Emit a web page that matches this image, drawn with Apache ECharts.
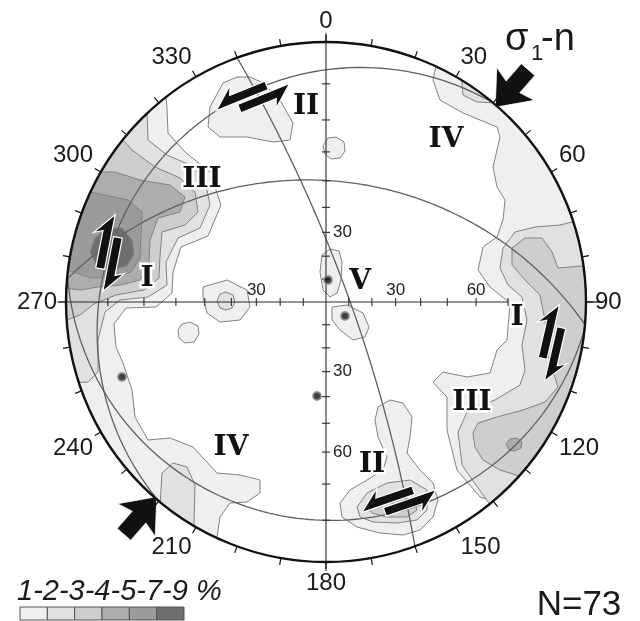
<!DOCTYPE html>
<html>
<head>
<meta charset="utf-8">
<script src="https://cdn.jsdelivr.net/npm/echarts@6.0.0/dist/echarts.min.js"></script>
<style>
html,body{margin:0;padding:0;background:#fff;}
#chart{width:640px;height:621px;}
</style>
</head>
<body>
<div id="chart"></div>
<script>
// ================= DATA =================
// Wulff (equal-angle) net, lower hemisphere. Projection units: primitive radius = R, x = east, y = north.
const R = 260;

// contour levels (% per 1% area)
const LEVEL_NAMES = ['1-2', '2-3', '3-4', '4-5', '5-7', '7-9'];
const LEVEL_COLORS = ['#efeff0', '#e1e1e2', '#cececf', '#adadae', '#9b9b9c', '#6f6f71'];
const LEGEND_TEXT = '1-2-3-4-5-7-9 %';
const N_TEXT = 'N=73';

// contour polygons; {rim:[a,b]} follows the primitive from azimuth a to b
const LEVEL1 = [
  [{rim: [205, 322]}, [-159, 194], [-158, 169], [-141, 150], [-116, 130], [-105, 97], [-118, 66], [-145, 55], [-153, 30], [-154, 9], [-170, -5], [-200, -6], [-212, -22], [-210, -45], [-203, -61], [-194, -88], [-191, -115], [-178, -138], [-156, -136], [-133, -145], [-109, -171], [-86, -173], [-66, -178], [-66, -191], [-79, -200], [-96, -201], [-106, -215], [-109, -235]],
  [{rim: [25, 140]}, [154, -195], [131, -168], [121, -128], [121, -95], [114, -88], [107, -80], [117, -70], [141, -75], [164, -71], [171, -48], [181, -38], [184, -1], [164, 15], [152, 32], [157, 55], [171, 65], [177, 82], [179, 102], [171, 115], [167, 135], [174, 165], [171, 175], [137, 189], [114, 202], [107, 222]],
  [[-116, 195], [-103, 219], [-89, 225], [-76, 225], [-63, 219], [-46, 202], [-33, 179], [-36, 162], [-53, 160], [-79, 165], [-106, 165], [-118, 175]],
  [[-3, 156], [2, 164], [10, 165], [18, 160], [19, 151], [14, 144], [5, 143], [-1, 148]],
  [[-4, 47], [4, 53], [13, 51], [16, 40], [15, 22], [11, 9], [4, 5], [-3, 12], [-6, 30]],
  [[6, -5], [21, -3], [37, -11], [43, -25], [39, -35], [27, -38], [14, -28], [6, -18]],
  [[-123, 15], [-99, 22], [-79, 12], [-76, -5], [-86, -18], [-106, -20], [-119, -11], [-123, 5]],
  [[-148, -28], [-144, -22], [-136, -20], [-128, -24], [-127, -32], [-132, -40], [-141, -41], [-147, -36]],
  [[49, -118], [52, -105], [64, -98], [77, -101], [86, -115], [84, -135], [81, -151], [94, -168], [107, -181], [112, -198], [107, -215], [94, -228], [77, -233], [54, -231], [31, -225], [16, -215], [14, -201], [24, -188], [41, -178], [57, -168], [61, -155], [52, -135]]
];
const LEVEL2 = [
  [{rim: [252, 316.5]}, [-178, 162], [-159, 147], [-136, 137], [-121, 122], [-116, 97], [-126, 74], [-148, 64], [-160, 40], [-159, 17], [-178, 5], [-206, 2], [-221, -10], [-228, -38], [-228, -70], [-238, -80]],
  [{rim: [210.5, 219.6]}, [-164, -171], [-153, -161], [-139, -165], [-131, -183], [-132, -222]],
  [{rim: [31.5, 40]}, [151, 200], [137, 207]],
  [{rim: [72, 141]}, [152, -186], [136, -163], [132, -130], [142, -108], [169, -98], [194, -83], [199, -68], [196, -43], [201, -18], [196, 5], [182, 17], [174, 34], [177, 54], [189, 70], [209, 75], [234, 77]],
  [[-109, 1], [-106, 8], [-100, 10], [-93, 7], [-91, 0], [-94, -6], [-100, -8], [-106, -6]],
  [[31, -205], [41, -191], [61, -181], [84, -178], [101, -188], [101, -208], [91, -218], [71, -221], [47, -220], [34, -215]]
];
const LEVEL3 = [
  [{rim: [266, 308.6]}, [-194, 152], [-171, 135], [-146, 124], [-131, 110], [-128, 90], [-141, 77], [-164, 70], [-166, 46], [-167, 24], [-182, 12], [-210, 7], [-232, -2], [-246, -13]],
  [{rim: [82, 132]}, [174, -168], [157, -158], [149, -145], [147, -131], [152, -121], [171, -115], [197, -108], [219, -100], [232, -85], [222, -53], [219, -18], [214, 7], [199, 22], [186, 37], [186, 54], [199, 64], [216, 64], [226, 50], [232, 34]],
  [[41, -205], [51, -196], [71, -193], [87, -198], [91, -208], [81, -215], [61, -215], [46, -211]]
];
const LEVEL4 = [
  [{rim: [273, 300]}, [-211, 130], [-186, 122], [-156, 117], [-141, 105], [-146, 90], [-168, 84], [-176, 62], [-177, 37], [-186, 22], [-205, 17], [-228, 15], [-245, 12]],
  [[180, -142], [184, -137], [191, -136], [196, -140], [195, -146], [189, -149], [183, -148]],
  [[61, -199], [66, -196], [76, -195], [83, -198], [80, -202], [70, -203]]
];
const LEVEL5 = [
  [{rim: [277, 295]}, [-221, 107], [-198, 102], [-184, 90], [-185, 67], [-186, 44], [-195, 30], [-212, 25], [-235, 24]]
];
const LEVEL6 = [
  [[-231, 64], [-218, 74], [-204, 74], [-194, 62], [-192, 48], [-199, 36], [-216, 32], [-230, 38], [-236, 50]]
];

// fault planes: [dip direction, dip] (great circles)
const PLANES = [[70, 80], [5, 40], [310, 10], [186, 10]];

// individual poles (projection units)
const POLES = [[2, 22], [19, -14], [-9, -94], [-204, -75]];

// shear-sense markers: [x, y, azimuth of marker axis, sense (+1 / -1)]
const SHEAR = [[-217, 49, 11, 1], [226, -41, 13, 1], [-73, 205, 68, -1], [73, -199, 71, -1]];

// sigma1 trend (both ends)
const SIGMA1_TRENDS = [41, 221];

// domain labels: [text, x, y]
const DOMAINS = [
  ['II', -20, 195], ['III', -124, 122], ['IV', 120, 162], ['I', -179, 23], ['V', 34, 20],
  ['I', 191, -16], ['III', 146, -101], ['IV', -95, -146], ['II', 46, -163]
];

// inner graduation arms: azimuth, tick angles from centre (deg), labelled ticks
const ARM_TICKS = [10, 20, 30, 40, 50, 60, 70, 80];
const ARMS = [
  {az: 0, ticks: ARM_TICKS, labels: [30]},
  {az: 90, ticks: ARM_TICKS.slice(0, 7), labels: [30, 60]},
  {az: 180, ticks: ARM_TICKS, labels: [30, 60]},
  {az: 270, ticks: ARM_TICKS, labels: [30]}
];
const EAST_ARM_END = 70;

// ================= HELPERS =================
const D2R = Math.PI / 180;
function dist(angleFromCentre) { return R * Math.tan(angleFromCentre / 2 * D2R); }
function wulff(trend, plunge) {
  const r = dist(90 - plunge);
  return [r * Math.sin(trend * D2R), r * Math.cos(trend * D2R)];
}
function greatCircle(dd, dip) {
  const s = (dd - 90) * D2R, d = dd * D2R, p = dip * D2R;
  const S = [Math.sin(s), Math.cos(s), 0];
  const Dv = [Math.cos(p) * Math.sin(d), Math.cos(p) * Math.cos(d), Math.sin(p)];
  const pts = [];
  for (let k = 0; k <= 180; k += 1.5) {
    const t = k * D2R, c = Math.cos(t), sn = Math.sin(t);
    const e = c * S[0] + sn * Dv[0], n = c * S[1] + sn * Dv[1], dn = c * S[2] + sn * Dv[2];
    const pl = Math.asin(Math.max(-1, Math.min(1, dn))) / D2R;
    const tr = Math.atan2(e, n) / D2R;
    pts.push(wulff(tr, pl));
  }
  return pts;
}
function rimArc(a1, a2) {
  const n = Math.max(2, Math.ceil(Math.abs(a2 - a1) / 2));
  const out = [];
  for (let i = 0; i <= n; i++) {
    const a = (a1 + (a2 - a1) * i / n) * D2R;
    out.push([R * Math.sin(a), R * Math.cos(a)]);
  }
  return out;
}
function expand(poly) {
  const out = [];
  poly.forEach(p => { if (p.rim) out.push(...rimArc(p.rim[0], p.rim[1])); else out.push(p); });
  return out;
}
function txt(style) {
  if (style.align) style.textAlign = style.align;
  if (style.verticalAlign) style.textVerticalAlign = style.verticalAlign;
  return style;
}

const LEVELS = [LEVEL1, LEVEL2, LEVEL3, LEVEL4, LEVEL5, LEVEL6];
const CONTOUR_STROKE = '#828282';

// ================= SERIES =================
const series = [];

LEVELS.forEach((polys, li) => {
  series.push({
    type: 'custom', name: LEVEL_NAMES[li], coordinateSystem: 'cartesian2d', xAxisIndex: 0, yAxisIndex: 0,
    z: 2 + li, silent: true,
    data: polys.map(() => [0, 0]),
    renderItem: (params, api) => {
      const pts = expand(polys[params.dataIndex]).map(p => api.coord(p));
      return {type: 'polygon', shape: {points: pts}, style: {fill: LEVEL_COLORS[li], stroke: CONTOUR_STROKE, lineWidth: 1}};
    }
  });
});

PLANES.forEach(pl => {
  series.push({
    type: 'line', coordinateSystem: 'cartesian2d', xAxisIndex: 0, yAxisIndex: 0,
    data: greatCircle(pl[0], pl[1]), showSymbol: false, symbol: 'none', silent: true, z: 9,
    lineStyle: {color: '#606060', width: 1.3}
  });
});

// graduated cross
series.push({
  type: 'custom', coordinateSystem: 'cartesian2d', xAxisIndex: 0, yAxisIndex: 0, z: 10, silent: true,
  data: [[0, 0]],
  renderItem: (params, api) => {
    const ch = [];
    const line = (a, b, w) => ch.push({type: 'line', shape: {x1: a[0], y1: a[1], x2: b[0], y2: b[1]}, style: {stroke: '#2b2b2b', lineWidth: w || 1.1}});
    const ext = 9;
    line(api.coord([0, R + ext]), api.coord([0, -R - ext]));
    line(api.coord([-R - ext, 0]), api.coord([dist(EAST_ARM_END), 0]));
    line(api.coord([R, 0]), api.coord([R + 14, 0]), 1.4);
    ARMS.forEach(arm => {
      const ux = Math.sin(arm.az * D2R), uy = Math.cos(arm.az * D2R);
      const horiz = Math.abs(ux) > 0.5;
      arm.ticks.forEach(d => {
        const c = api.coord([ux * dist(d), uy * dist(d)]);
        if (horiz) line([c[0], c[1] - 4], [c[0], c[1] + 4]);
        else line([c[0] - 4, c[1]], [c[0] + 4, c[1]]);
      });
      arm.labels.forEach(d => {
        const c = api.coord([ux * dist(d), uy * dist(d)]);
        ch.push({type: 'text', x: horiz ? c[0] : c[0] + 7, y: horiz ? c[1] - 12 : c[1],
          style: txt({text: String(d), font: '17px "Liberation Sans"', fill: '#222', align: horiz ? 'center' : 'left', verticalAlign: 'middle'})});
      });
    });
    return {type: 'group', children: ch};
  }
});

// poles
series.push({
  type: 'scatter', coordinateSystem: 'cartesian2d', xAxisIndex: 0, yAxisIndex: 0, z: 11, silent: true,
  data: POLES, symbolSize: 8,
  itemStyle: {color: '#111', borderColor: '#8f8f8f', borderWidth: 2}
});

// shear-sense half arrows
series.push({
  type: 'custom', coordinateSystem: 'cartesian2d', xAxisIndex: 0, yAxisIndex: 0, z: 12, silent: true,
  data: SHEAR.map(s => [s[0], s[1]]),
  renderItem: (params, api) => {
    const [x, y, az, sense] = SHEAR[params.dataIndex];
    const c = api.coord([x, y]);
    const a = az * D2R;
    const u = [Math.sin(a), -Math.cos(a)], v = [Math.cos(a), Math.sin(a)];
    const L = 56, hl = 22, w = 9, bw = 9, gi = 1.2, st = 11;
    const half = (base, d, o) => {
      const P = (p, q) => [base[0] + p * d[0] + q * o[0], base[1] + p * d[1] + q * o[1]];
      return [P(-L / 2, 0), P(L / 2, 0), P(L / 2 - hl, w + bw), P(L / 2 - hl + 4, w), P(-L / 2, w)];
    };
    const baseA = [c[0] - sense * gi * v[0] + st * u[0], c[1] - sense * gi * v[1] + st * u[1]];
    const baseB = [c[0] + sense * gi * v[0] - st * u[0], c[1] + sense * gi * v[1] - st * u[1]];
    const A = half(baseA, u, [-sense * v[0], -sense * v[1]]);
    const B = half(baseB, [-u[0], -u[1]], [sense * v[0], sense * v[1]]);
    const sty = {fill: '#111', stroke: '#fff', lineWidth: 1.2};
    return {type: 'group', children: [
      {type: 'polygon', shape: {points: A}, style: sty},
      {type: 'polygon', shape: {points: B}, style: sty}
    ]};
  }
});

// sigma1 arrows
series.push({
  type: 'custom', coordinateSystem: 'cartesian2d', xAxisIndex: 0, yAxisIndex: 0, z: 12, silent: true,
  data: SIGMA1_TRENDS.map(() => [0, 0]),
  renderItem: (params, api) => {
    const t = SIGMA1_TRENDS[params.dataIndex] * D2R;
    const tip = api.coord([R * Math.sin(t), R * Math.cos(t)]);
    const ctr = api.coord([0, 0]);
    let d = [ctr[0] - tip[0], ctr[1] - tip[1]];
    const len = Math.hypot(d[0], d[1]); d = [d[0] / len, d[1] / len];
    const o = [-d[1], d[0]];
    const P = (p, q) => [tip[0] + p * d[0] + q * o[0], tip[1] + p * d[1] + q * o[1]];
    const pts = [P(2, 0), P(-29, 25), P(-25, 9), P(-48, 9), P(-48, -9), P(-25, -9), P(-29, -25)];
    return {type: 'polygon', shape: {points: pts}, style: {fill: '#111', stroke: '#fff', lineWidth: 0.8}};
  }
});

// domain labels
series.push({
  type: 'custom', coordinateSystem: 'cartesian2d', xAxisIndex: 0, yAxisIndex: 0, z: 13, silent: true,
  data: DOMAINS.map(d => [d[1], d[2]]),
  renderItem: (params, api) => {
    const d = DOMAINS[params.dataIndex];
    const c = api.coord([d[1], d[2]]);
    return {type: 'text', x: c[0], y: c[1],
      style: txt({text: d[0], font: 'bold 28px "DejaVu Serif"', fill: '#111', stroke: '#fff', lineWidth: 5, align: 'center', verticalAlign: 'middle'})};
  }
});

// legend bar
series.push({
  type: 'custom', coordinateSystem: 'cartesian2d', xAxisIndex: 1, yAxisIndex: 1, z: 5, silent: true,
  data: LEVEL_NAMES.map((n, i) => [i, 0]),
  renderItem: (params, api) => {
    const i = params.dataIndex;
    const p0 = api.coord([i, 1]), p1 = api.coord([i + 1, 0]);
    return {type: 'rect', shape: {x: p0[0], y: p0[1], width: p1[0] - p0[0], height: p1[1] - p0[1]},
      style: {fill: LEVEL_COLORS[i], stroke: '#555', lineWidth: 1}};
  }
});

const option = {
  animation: false,
  backgroundColor: '#fff',
  grid: [
    {left: 66, top: 42, width: 520, height: 520},
    {left: 20, top: 607, width: 164, height: 13}
  ],
  xAxis: [
    {type: 'value', gridIndex: 0, min: -R, max: R, show: false},
    {type: 'value', gridIndex: 1, min: 0, max: LEVEL_NAMES.length, show: false}
  ],
  yAxis: [
    {type: 'value', gridIndex: 0, min: -R, max: R, show: false},
    {type: 'value', gridIndex: 1, min: 0, max: 1, show: false}
  ],
  polar: {center: [326, 302], radius: 260},
  angleAxis: {
    type: 'value', min: 0, max: 360, interval: 10, startAngle: 90, clockwise: true, z: 14,
    axisLine: {lineStyle: {color: '#111', width: 2.4}},
    axisTick: {length: 7, lineStyle: {color: '#111', width: 1.2}},
    splitLine: {show: false},
    axisLabel: {margin: 9, fontSize: 24, color: '#1a1a1a', fontFamily: 'Liberation Sans',
      formatter: v => (v % 30 === 0 && v < 360) ? String(v) : ''}
  },
  radiusAxis: {type: 'value', min: 0, max: 1, show: false},
  graphic: {elements: [
    {type: 'text', x: 17, y: 592, style: txt({text: LEGEND_TEXT, font: 'italic 29px "Liberation Sans"', fill: '#1a1a1a', align: 'left', verticalAlign: 'middle'})},
    {type: 'text', x: 579, y: 605, style: txt({text: N_TEXT, font: '35px "Liberation Sans"', fill: '#1a1a1a', align: 'center', verticalAlign: 'middle'})},
    {type: 'text', x: 505, y: 40, style: txt({text: 'σ', font: '38px "Liberation Sans"', fill: '#1a1a1a', align: 'left', verticalAlign: 'middle'})},
    {type: 'text', x: 531, y: 54, style: txt({text: '1', font: '22px "Liberation Sans"', fill: '#1a1a1a', align: 'left', verticalAlign: 'middle'})},
    {type: 'text', x: 541, y: 40, style: txt({text: '-n', font: '38px "Liberation Sans"', fill: '#1a1a1a', align: 'left', verticalAlign: 'middle'})}
  ]},
  series: series
};

const chart = echarts.init(document.getElementById('chart'), null, {renderer: 'canvas'});
chart.setOption(option);
</script>
</body>
</html>
